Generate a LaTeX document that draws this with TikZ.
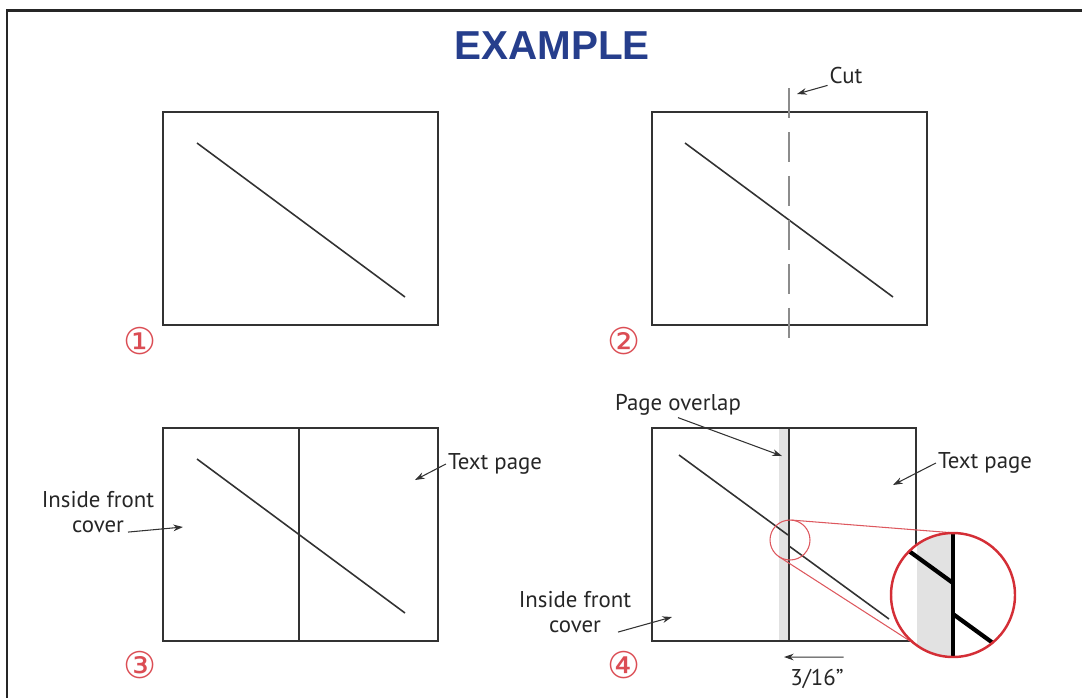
\documentclass[tikz,border=0pt]{standalone}
\usepackage{fontspec}
\setmainfont{PT Sans}
\newfontfamily\titlefont{Liberation Sans}
\newfontfamily\symfont{DejaVu Sans}
\usetikzlibrary{arrows.meta,positioning,calc}
\definecolor{titleblue}{RGB}{38,62,140}
\definecolor{markred}{RGB}{212,46,54}
\definecolor{overlap}{RGB}{226,226,226}
\definecolor{pageline}{RGB}{50,50,50}

\begin{document}
\begin{tikzpicture}[x=0.02cm,y=-0.02cm,>={Stealth[length=5.5pt,width=3.8pt]},
  page/.style={draw=pageline,line width=1.1pt},
  diag/.style={draw=pageline,line width=0.9pt},
  lbl/.style={font=\fontsize{13}{14.5}\selectfont,text=black!85,align=center,inner sep=1pt},
  pointer/.style={->,draw=pageline,line width=0.6pt},
  num/.style={font=\symfont\fontsize{21}{21}\selectfont,text=markred!85,inner sep=0pt},
  lens/.style={circle,outer sep=0pt,inner sep=0pt}]
\useasboundingbox (0,0) rectangle (1082,698);
\draw[line width=1.7pt,black!85] (1082,10) -- (7,10) -- (7,698);

\node[font=\titlefont\bfseries\fontsize{23}{26}\selectfont,text=titleblue] (title) at (552,46) {EXAMPLE};

% 1
\draw[page] (163,112) rectangle (438,325);
\draw[diag] (197,143) -- (405,297);
\node[num] (n1) at (140,341) {①};

% 2
\draw[page] (652,112) rectangle (927,325);
\draw[diag] (685,143) -- (893,297);
\draw[line width=1.1pt,black!45,dash pattern=on 0.6cm off 0.28cm] (789,88) -- (789,348);
\node[lbl] (cut) at (846,75) {Cut};
\coordinate (cuttip) at (797,94);
\draw[pointer] (cut.south west) -- (cuttip);
\node[num] (n2) at (624,341) {②};

% 3
\draw[page] (163,428) rectangle (438,641);
\draw[page] (299,428) -- (299,641);
\draw[diag] (197,459) -- (405,613);
\node[lbl] (ifc3) at (98,512) {Inside front\\cover};
\coordinate (ifc3tip) at (183,527);
\draw[pointer] ([shift={(30,-3)}]ifc3.south) -- (ifc3tip);
\node[lbl] (tp3) at (495,464) {Text page};
\coordinate (tp3tip) at (415,480);
\draw[pointer] (tp3.west) -- (tp3tip);
\node[num] (n3) at (140,665) {③};

% 4
\fill[overlap] (779,428) rectangle (789,641);
\draw[page] (652,428) rectangle (916,641);
\draw[page] (789,428) -- (789,641);
\draw[diag] (679,455) -- (788,535);
\draw[diag] (789,546) -- (889,619);
\node[lbl] (po) at (678,405) {Page overlap};
\coordinate (potip) at (782,456);
\draw[pointer] (po.south) -- (potip);
\node[lbl] (tp4) at (985,463) {Text page};
\coordinate (tp4tip) at (893,485);
\draw[pointer] (tp4.west) -- (tp4tip);
\node[lbl] (ifc4) at (575,612) {Inside front\\cover};
\coordinate (ifc4tip) at (672,617);
\draw[pointer] ([shift={(43,-3)}]ifc4.south) -- (ifc4tip);
\node[lbl] (dim) at (817,679) {3/16”};
\coordinate (dimtip) at (784,657);
\draw[pointer] (dim.north east) ++(-2,-10) -- (dimtip);
\node[num] (n4) at (624,665) {④};

% zoom
\node[lens,minimum size=0.8cm,draw=markred!80,line width=0.6pt] (zsmall) at (790,540) {};
\node[lens,minimum size=2.48cm,fill=white] (zbig) at (953,595) {};
\draw[markred!80,line width=0.6pt] (zsmall.86) -- (zbig.86);
\draw[markred!80,line width=0.6pt] (zsmall.-123) -- (zbig.-123);
\begin{scope}
\clip (zbig.center) circle[radius=62];
\fill[overlap] (917,520) rectangle (952,670);
\draw[black,line width=2.4pt] (953,520) -- (953,670);
\draw[black,line width=2.4pt] (880,530) -- (953,583);
\draw[black,line width=2.4pt] (953,614) -- (1015,659);
\end{scope}
\draw[markred,line width=1.4pt] (zbig.center) circle[radius=62];
\end{tikzpicture}
\end{document}
